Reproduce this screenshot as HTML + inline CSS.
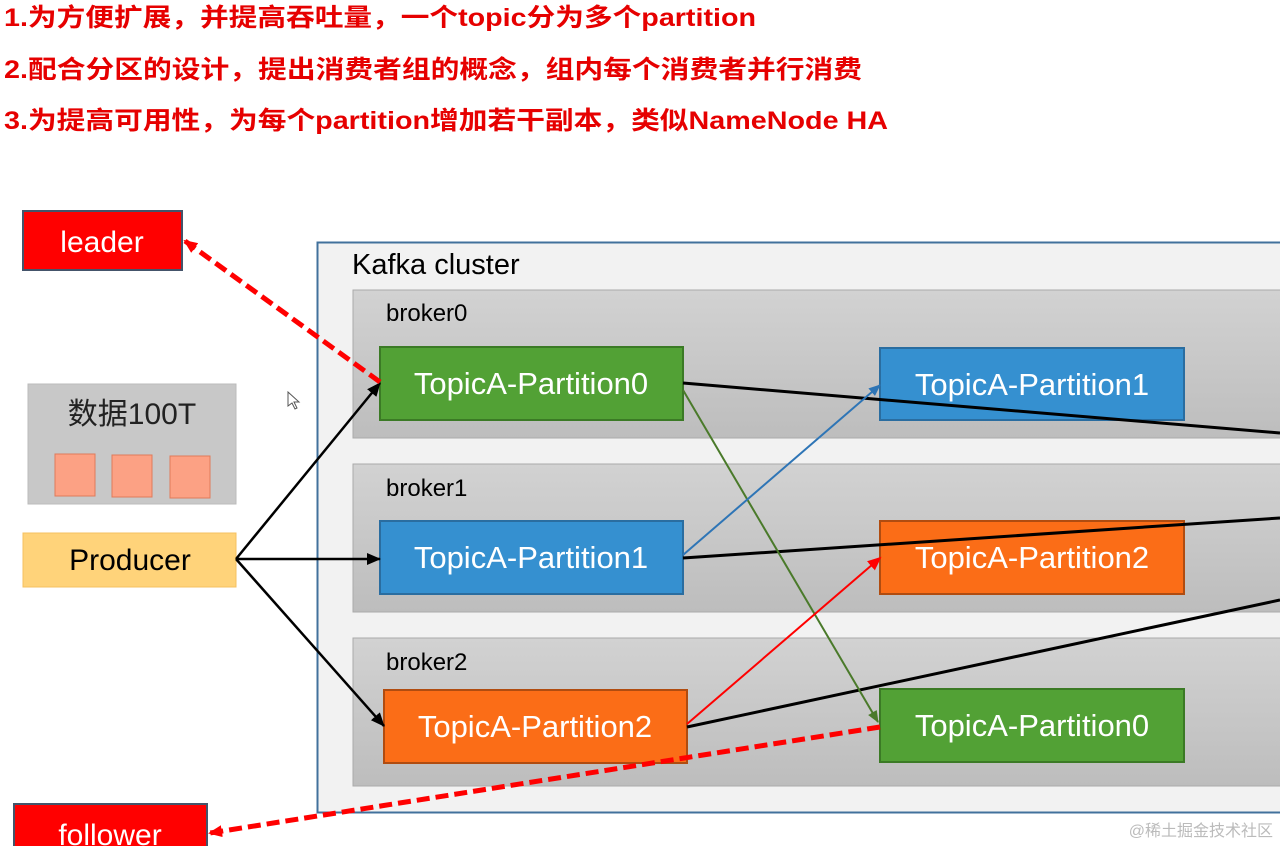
<!DOCTYPE html>
<html><head><meta charset="utf-8"><style>
html,body{margin:0;padding:0;background:#fff;width:1280px;height:846px;overflow:hidden}
svg{display:block}
</style></head><body>
<svg width="1280" height="846" xmlns="http://www.w3.org/2000/svg" font-family="Liberation Sans, Noto Sans CJK SC, sans-serif">
<defs>
<marker id="ak" markerWidth="14" markerHeight="12" refX="13" refY="6" orient="auto" markerUnits="userSpaceOnUse"><path d="M0,0 L14,6 L0,12 z" fill="#000"/></marker>
<marker id="ag" markerWidth="12" markerHeight="10" refX="11" refY="5" orient="auto" markerUnits="userSpaceOnUse"><path d="M0,0 L12,5 L0,10 z" fill="#4a7a2a"/></marker>
<marker id="ab" markerWidth="12" markerHeight="10" refX="11" refY="5" orient="auto" markerUnits="userSpaceOnUse"><path d="M0,0 L12,5 L0,10 z" fill="#2e75b6"/></marker>
<marker id="ar" markerWidth="14" markerHeight="12" refX="12" refY="6" orient="auto" markerUnits="userSpaceOnUse"><path d="M0,0 L14,6 L0,12 z" fill="#f00"/></marker>
<linearGradient id="gb" x1="0" y1="0" x2="0" y2="1"><stop offset="0" stop-color="#d2d2d2"/><stop offset="1" stop-color="#bdbdbd"/></linearGradient>
</defs>
<g font-weight="bold" fill="#e60000" font-size="25">
<text x="4" y="26" textLength="752" lengthAdjust="spacingAndGlyphs">1.为方便扩展，并提高吞吐量，一个topic分为多个partition</text>
<text x="4" y="78" textLength="858" lengthAdjust="spacingAndGlyphs">2.配合分区的设计，提出消费者组的概念，组内每个消费者并行消费</text>
<text x="4" y="129" textLength="884" lengthAdjust="spacingAndGlyphs">3.为提高可用性，为每个partition增加若干副本，类似NameNode HA</text>
</g>
<rect x="317.5" y="242.5" width="980" height="570" fill="#f2f2f2" stroke="#41719c" stroke-width="2"/>
<text x="352" y="274" font-size="29" fill="#000">Kafka cluster</text>
<rect x="353" y="290" width="940" height="148" fill="url(#gb)" stroke="#aaa"/>
<rect x="353" y="464" width="940" height="148" fill="url(#gb)" stroke="#aaa"/>
<rect x="353" y="638" width="940" height="148" fill="url(#gb)" stroke="#aaa"/>
<g font-size="24" fill="#000"><text x="386" y="321">broker0</text><text x="386" y="496">broker1</text><text x="386" y="670">broker2</text></g>
<g font-size="31" fill="#fff" text-anchor="middle">
<rect x="380" y="347" width="303" height="73" fill="#52a135" stroke="#3b7a25" stroke-width="2"/><text x="531" y="394">TopicA-Partition0</text>
<rect x="880" y="348" width="304" height="72" fill="#3590d0" stroke="#2a6da0" stroke-width="2"/><text x="1032" y="395">TopicA-Partition1</text>
<rect x="380" y="521" width="303" height="73" fill="#3590d0" stroke="#2a6da0" stroke-width="2"/><text x="531" y="568">TopicA-Partition1</text>
<rect x="880" y="521" width="304" height="73" fill="#fb6d17" stroke="#b04c10" stroke-width="2"/><text x="1032" y="568">TopicA-Partition2</text>
<rect x="384" y="690" width="303" height="73" fill="#fb6d17" stroke="#b04c10" stroke-width="2"/><text x="535" y="737">TopicA-Partition2</text>
<rect x="880" y="689" width="304" height="73" fill="#52a135" stroke="#3b7a25" stroke-width="2"/><text x="1032" y="736">TopicA-Partition0</text>
</g>
<rect x="23" y="211" width="159" height="59" fill="#f00" stroke="#44546a" stroke-width="2"/>
<text x="102" y="252" font-size="30" fill="#fff" text-anchor="middle">leader</text>
<rect x="14" y="804" width="193" height="60" fill="#f00" stroke="#44546a" stroke-width="2"/>
<text x="110" y="845" font-size="30" fill="#fff" text-anchor="middle">follower</text>
<rect x="28" y="384" width="208" height="120" fill="#c8c8c8" stroke="#bbb"/>
<text x="132" y="424" font-size="30" fill="#222" text-anchor="middle">数据100T</text>
<rect x="55" y="454" width="40" height="42" fill="#fca184" stroke="#e07a5a"/>
<rect x="112" y="455" width="40" height="42" fill="#fca184" stroke="#e07a5a"/>
<rect x="170" y="456" width="40" height="42" fill="#fca184" stroke="#e07a5a"/>
<rect x="23" y="533" width="213" height="54" fill="#ffd37a" stroke="#f5c060"/>
<text x="130" y="570" font-size="30" fill="#000" text-anchor="middle">Producer</text>
<g stroke="#000" stroke-width="2.5" fill="none">
<line x1="236" y1="559" x2="380" y2="383" marker-end="url(#ak)"/>
<line x1="236" y1="559" x2="380" y2="559" marker-end="url(#ak)"/>
<line x1="236" y1="559" x2="384" y2="726" marker-end="url(#ak)"/>
<line x1="683" y1="383" x2="1280" y2="433" stroke-width="3"/>
<line x1="683" y1="558" x2="1280" y2="518" stroke-width="3"/>
<line x1="687" y1="727" x2="1280" y2="600" stroke-width="3"/>
</g>
<line x1="683" y1="390" x2="878" y2="722" stroke="#4a7a2a" stroke-width="2" marker-end="url(#ag)"/>
<line x1="683" y1="555" x2="880" y2="385" stroke="#2e75b6" stroke-width="2" marker-end="url(#ab)"/>
<line x1="687" y1="724" x2="880" y2="558" stroke="#f00" stroke-width="2" marker-end="url(#ar)"/>
<line x1="380" y1="382" x2="185" y2="241" stroke="#f00" stroke-width="5" stroke-dasharray="13,6" marker-end="url(#ar)"/>
<line x1="880" y1="727" x2="210" y2="833" stroke="#f00" stroke-width="5" stroke-dasharray="13,6" marker-end="url(#ar)"/>
<path d="M288,392 l0,14 l4,-3 l3,6 l2,-1 l-3,-6 l5,0 z" fill="#fff" stroke="#555" stroke-width="1"/>
<text x="1273" y="836" font-size="16" fill="#bbb" text-anchor="end">@稀土掘金技术社区</text>
</svg>
</body></html>
